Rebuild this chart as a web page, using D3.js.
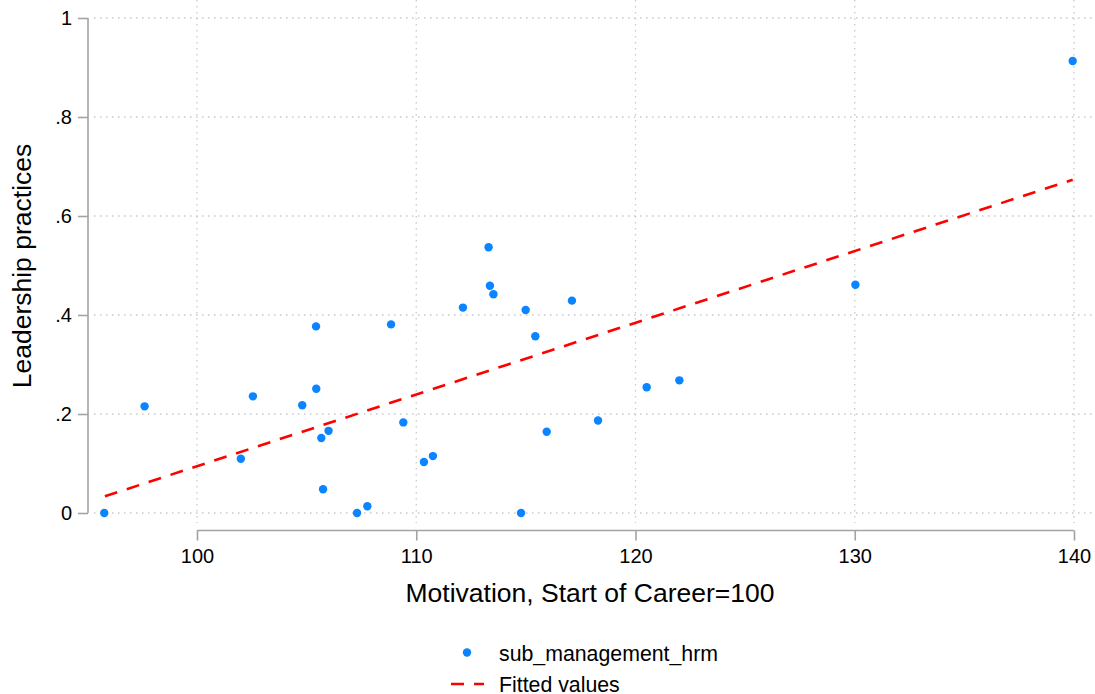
<!DOCTYPE html>
<html>
<head>
<meta charset="utf-8">
<script src="https://cdn.jsdelivr.net/npm/d3@7"></script>
<style>
  html, body { margin: 0; padding: 0; background: #ffffff; }
  svg { display: block; font-family: "Liberation Sans", Arial, sans-serif; }
</style>
</head>
<body>
<svg id="chart" width="1095" height="694"></svg>
<script>
// Motivation index (start of career = 100) for each observation
const motivation = [
  95.77, 97.61, 102.0, 102.55, 104.8, 105.43, 105.44, 105.67, 105.75, 106.0,
  107.3, 107.77, 108.85, 109.41, 110.35, 110.76, 112.13, 113.3, 113.36, 113.52,
  114.78, 114.99, 115.43, 115.95, 117.1, 118.29, 120.51, 122.0, 130.03, 139.94
];
// Leadership practices score for each observation
const leadership = [
  0.0, 0.2155, 0.1097, 0.2357, 0.2176, 0.377, 0.251, 0.1515, 0.048, 0.166,
  0.0, 0.0135, 0.381, 0.183, 0.103, 0.115, 0.415, 0.537, 0.459, 0.442,
  0.0, 0.410, 0.357, 0.164, 0.429, 0.187, 0.254, 0.268, 0.461, 0.913
];
// Linear fit, evaluated at the ends of the observed range
const fitX = [95.8, 139.94];
const fitY = [0.0337, 0.6733];

const xTicks = [100, 110, 120, 130, 140];
const yTicks = [0, 0.2, 0.4, 0.6, 0.8, 1];
const yTickLabels = ["0", ".2", ".4", ".6", ".8", "1"];

const seriesNames = ["sub_management_hrm", "Fitted values"];
const xTitle = "Motivation, Start of Career=100";
const yTitle = "Leadership practices";

const svg = d3.select("#chart");

const x = d3.scaleLinear().domain([100, 140]).range([197, 1074]);
const y = d3.scaleLinear().domain([0, 1]).range([513, 18]);

const gridColor = "#c9c9c9";
const axisColor = "#a3a3a3";
const dotColor = "#0a84ff";
const fitColor = "#ff0000";

// Plot region extents for the grid
const plotLeft = 94, plotRight = 1095, plotTop = 0, plotBottom = 523;

// Dotted grid
svg.append("g").selectAll("line.hgrid")
  .data(yTicks).join("line")
  .attr("x1", plotLeft).attr("x2", plotRight)
  .attr("y1", d => y(d)).attr("y2", d => y(d))
  .attr("stroke", gridColor).attr("stroke-width", 1.3)
  .attr("stroke-dasharray", "1.5,4.5");

svg.append("g").selectAll("line.vgrid")
  .data(xTicks).join("line")
  .attr("x1", d => x(d)).attr("x2", d => x(d))
  .attr("y1", plotTop).attr("y2", plotBottom)
  .attr("stroke", gridColor).attr("stroke-width", 1.3)
  .attr("stroke-dasharray", "1.5,4.5");

// Y axis
const yAxis = d3.axisLeft(y)
  .tickValues(yTicks)
  .tickFormat((d, i) => yTickLabels[i])
  .tickSize(10)
  .tickPadding(6);
const gy = svg.append("g").attr("transform", "translate(88,0)").call(yAxis);
gy.select(".domain").attr("d", `M0,${y(1)}V${y(0)}`)
  .attr("stroke", axisColor).attr("stroke-width", 1.6);
gy.selectAll(".tick line").attr("stroke", axisColor).attr("stroke-width", 1.6);
gy.selectAll(".tick text").attr("font-size", 20).attr("fill", "#000")
  .attr("font-family", "'Liberation Sans', Arial, sans-serif");

// X axis
const xAxis = d3.axisBottom(x)
  .tickValues(xTicks)
  .tickFormat(d3.format("d"))
  .tickSize(10)
  .tickPadding(8);
const gx = svg.append("g").attr("transform", "translate(0,530.5)").call(xAxis);
gx.select(".domain").attr("d", `M${x(100)},0H${x(140)}`)
  .attr("stroke", axisColor).attr("stroke-width", 1.6);
gx.selectAll(".tick line").attr("stroke", axisColor).attr("stroke-width", 1.6);
gx.selectAll(".tick text").attr("font-size", 20).attr("fill", "#000")
  .attr("font-family", "'Liberation Sans', Arial, sans-serif");

// Fitted line
const fitData = fitX.map((v, i) => [v, fitY[i]]);
svg.append("path")
  .datum(fitData)
  .attr("d", d3.line().x(d => x(d[0])).y(d => y(d[1])))
  .attr("fill", "none")
  .attr("stroke", fitColor)
  .attr("stroke-width", 2.6)
  .attr("stroke-dasharray", "13,10");

// Scatter points
const pts = motivation.map((v, i) => [v, leadership[i]]);
svg.append("g").selectAll("circle")
  .data(pts).join("circle")
  .attr("cx", d => x(d[0]))
  .attr("cy", d => y(d[1]))
  .attr("r", 4.2)
  .attr("fill", dotColor);

// Axis titles
svg.append("text")
  .attr("x", 590).attr("y", 602)
  .attr("text-anchor", "middle")
  .attr("font-size", 26.5)
  .attr("fill", "#000")
  .text(xTitle);

svg.append("text")
  .attr("transform", "translate(31,266) rotate(-90)")
  .attr("text-anchor", "middle")
  .attr("font-size", 26.5)
  .attr("fill", "#000")
  .text(yTitle);

// Legend
const legend = svg.append("g");
legend.append("circle")
  .attr("cx", 467).attr("cy", 652.5).attr("r", 4.2).attr("fill", dotColor);
legend.append("line")
  .attr("x1", 451).attr("x2", 484).attr("y1", 684).attr("y2", 684)
  .attr("stroke", fitColor).attr("stroke-width", 2.6)
  .attr("stroke-dasharray", "13,10");
legend.selectAll("text")
  .data(seriesNames).join("text")
  .attr("x", 499)
  .attr("y", (d, i) => 661 + i * 31)
  .attr("font-size", 21.3)
  .attr("fill", "#000")
  .text(d => d);
</script>
</body>
</html>
